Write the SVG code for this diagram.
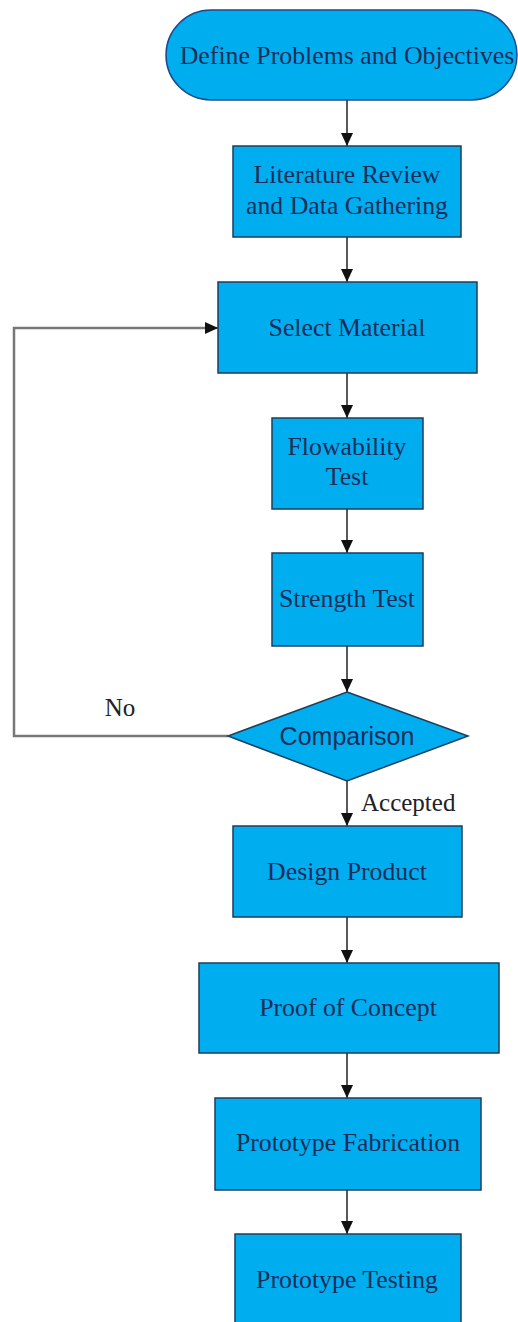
<svg xmlns="http://www.w3.org/2000/svg" width="518" height="1322" viewBox="0 0 518 1322">
<defs>
<style>
.box{fill:#00aeef;stroke:#1d3d5c;stroke-width:1.5}
.term{fill:#00aeef;stroke:#1f4a8a;stroke-width:1.5}
.t{font-family:"Liberation Serif","Times New Roman",serif;font-size:25.8px;fill:#1a2d5a;text-anchor:middle}
.ts{font-family:"Liberation Sans",Arial,sans-serif;font-size:25px;fill:#1a2d5a;text-anchor:middle}
.lbl{font-family:"Liberation Serif","Times New Roman",serif;font-size:25px;fill:#222}
.c{fill:none;stroke:#222;stroke-width:1.5}
.fb{fill:none;stroke:#777;stroke-width:2.5}
</style>
<marker id="ah" markerWidth="12" markerHeight="12" refX="13" refY="6" orient="auto" markerUnits="userSpaceOnUse">
<path d="M0,0 L13,6 L0,12 Z" fill="#111"/>
</marker>
</defs>
<rect width="518" height="1322" fill="#fff"/>
<g id="connectors">
<line class="c" x1="347" y1="100" x2="347" y2="146" marker-end="url(#ah)"/>
<line class="c" x1="347" y1="237" x2="347" y2="282" marker-end="url(#ah)"/>
<line class="c" x1="347" y1="373" x2="347" y2="418" marker-end="url(#ah)"/>
<line class="c" x1="347" y1="509" x2="347" y2="553" marker-end="url(#ah)"/>
<line class="c" x1="347" y1="646" x2="347" y2="692" marker-end="url(#ah)"/>
<polyline class="fb" points="228,736 14,736 14,328 206,328"/>
<line class="c" x1="206" y1="328" x2="218" y2="328" marker-end="url(#ah)"/>
<line class="c" x1="347" y1="781" x2="347" y2="826" marker-end="url(#ah)"/>
<line class="c" x1="347" y1="917" x2="347" y2="963" marker-end="url(#ah)"/>
<line class="c" x1="347" y1="1053" x2="347" y2="1098" marker-end="url(#ah)"/>
<line class="c" x1="347" y1="1190" x2="347" y2="1234" marker-end="url(#ah)"/>
<text class="lbl" x="120" y="716" text-anchor="middle">No</text>
<text class="lbl" x="361" y="811">Accepted</text>
</g>
<g id="n1">
<rect class="term" x="166" y="10" width="351" height="90" rx="45" ry="45"/>
<text class="t" x="347" y="64">Define Problems and Objectives</text>
</g>
<g id="n2">
<rect class="box" x="233" y="146" width="228" height="91"/>
<text class="t" x="347" y="183">Literature Review</text>
<text class="t" x="347" y="214">and Data Gathering</text>
</g>
<g id="n3">
<rect class="box" x="218" y="282" width="259" height="91"/>
<text class="t" x="347" y="336">Select Material</text>
</g>
<g id="n4">
<rect class="box" x="272" y="418" width="151" height="91"/>
<text class="t" x="347" y="455">Flowability</text>
<text class="t" x="347" y="485">Test</text>
</g>
<g id="n5">
<rect class="box" x="272" y="553" width="151" height="93"/>
<text class="t" x="347" y="607">Strength Test</text>
</g>
<g id="n6">
<polygon class="box" points="347,692 468,736 347,781 228,736"/>
<text class="ts" x="347" y="745">Comparison</text>
</g>
<g id="n7">
<rect class="box" x="233" y="826" width="229" height="91"/>
<text class="t" x="347" y="880">Design Product</text>
</g>
<g id="n8">
<rect class="box" x="199" y="963" width="300" height="90"/>
<text class="t" x="348" y="1016">Proof of Concept</text>
</g>
<g id="n9">
<rect class="box" x="215" y="1098" width="266" height="92"/>
<text class="t" x="348" y="1151">Prototype Fabrication</text>
</g>
<g id="n10">
<rect class="box" x="235" y="1234" width="226" height="95"/>
<text class="t" x="347" y="1288">Prototype Testing</text>
</g>
</svg>
